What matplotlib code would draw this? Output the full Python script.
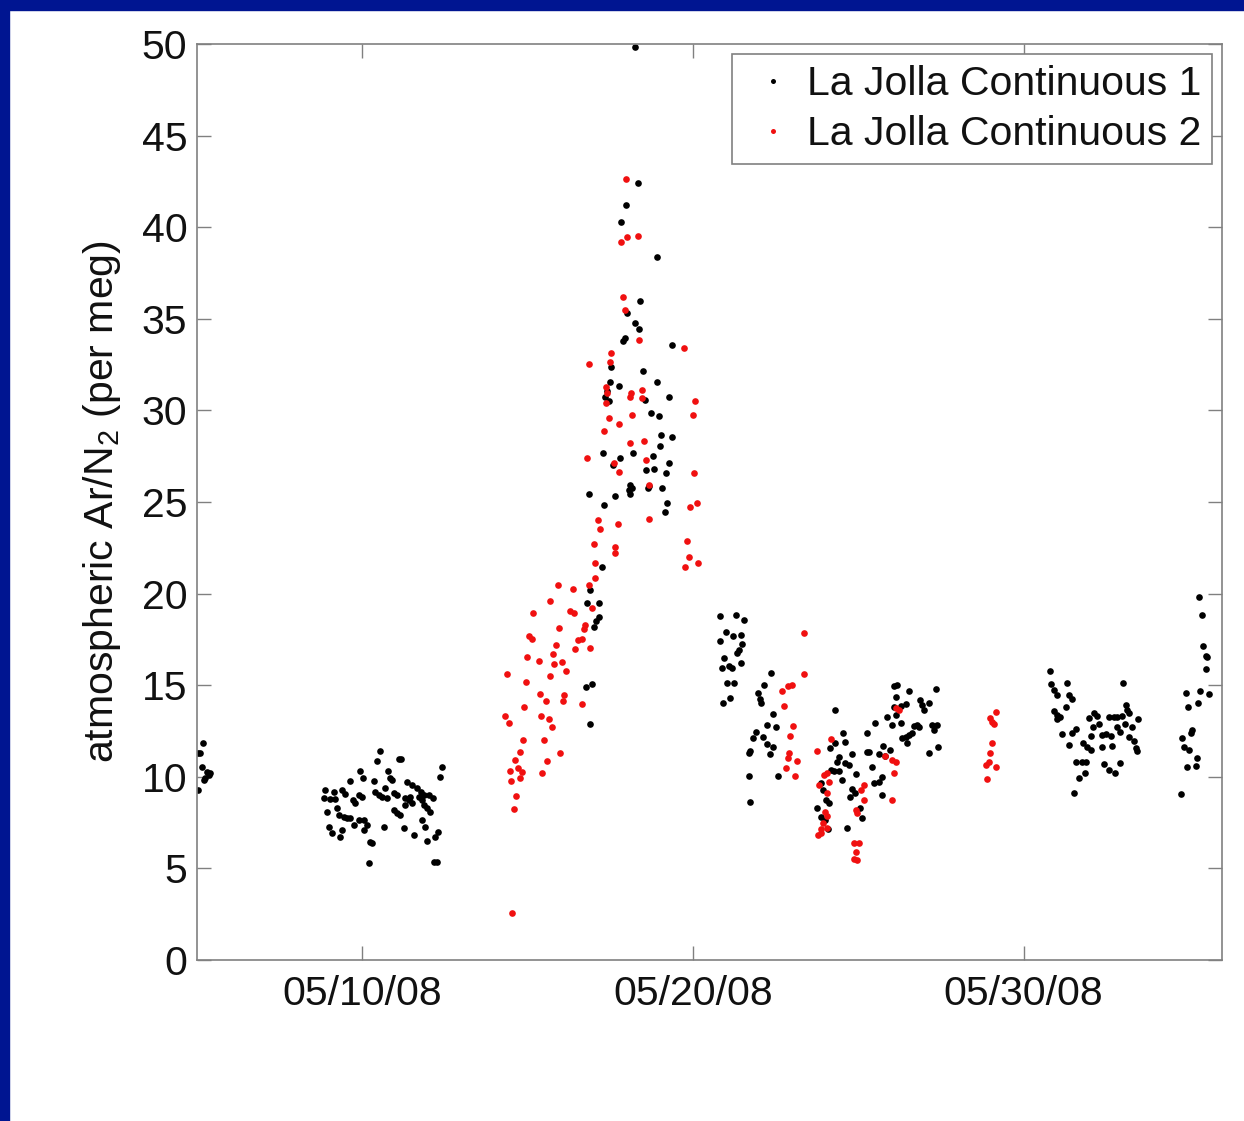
import numpy as np
import matplotlib
matplotlib.use('Agg')
import matplotlib.pyplot as plt
import matplotlib.dates as mdates
from matplotlib.patches import Rectangle
from datetime import datetime

# day of May 2008 (fractional) and Ar/N2 in per meg
black_day = [
    5.18, 5.08, 5.02, 5.15, 5.30, 5.35, 5.25, 5.20, 5.40, 5.02,
    10.52, 10.44, 11.10, 11.17, 9.94, 10.02, 10.78, 10.85, 10.90, 9.62, 10.34, 12.41, 12.36,
    11.35, 11.50, 11.65, 11.76, 11.86, 12.01, 12.14, 8.88, 9.13, 9.38, 9.49, 8.83, 9.03, 9.18,
    9.71, 9.79, 9.89, 9.99, 10.39, 10.49, 10.60, 10.70, 10.75, 10.95, 11.05, 11.30, 11.40,
    11.45, 11.50, 11.30, 11.70, 11.81, 11.86, 11.96, 12.06, 8.93, 9.23, 9.28, 9.44, 9.54,
    9.64, 9.89, 10.04, 10.14, 10.95, 11.05, 11.13, 8.98, 9.08, 9.38, 9.33, 9.74, 10.04,
    10.65, 11.25, 11.55, 11.81, 11.91, 11.96, 12.21, 12.28, 10.24, 10.29, 10.19, 12.16, 12.26,
    17.25, 16.88, 16.78, 17.15, 17.08, 17.15, 17.02, 16.75, 16.95, 16.90,
    18.26, 18.34, 17.96, 17.83, 18.92, 18.41, 17.99, 18.24, 18.36, 17.89, 17.93, 19.37, 17.52,
    18.49, 17.48, 17.76, 18.90, 17.40, 17.35, 17.45, 18.56, 19.29, 18.73, 18.97, 19.02,
    19.37, 19.00, 17.27, 18.19, 17.79, 18.79, 17.58, 19.27, 18.59, 18.81, 19.17, 18.09,
    18.06, 18.16, 18.63, 18.68, 19.07, 16.85, 17.63, 18.09, 19.22, 17.32, 19.14,
    20.83, 21.29, 21.54, 21.01, 21.22, 21.44, 20.81, 21.49, 21.39, 21.32, 20.93, 21.08,
    20.88, 21.18, 21.46, 21.03, 21.24, 21.13, 20.91, 22.37, 22.16, 21.96, 22.02, 22.06,
    22.43, 22.24, 22.50, 21.92, 21.82, 22.12, 22.24, 22.43, 21.74, 21.69, 22.32, 21.69,
    22.57, 21.74, 24.29, 24.54, 24.31, 24.61, 24.14, 24.41, 24.36, 24.61, 24.82, 24.72,
    24.18, 24.28, 24.41, 24.51, 24.92, 25.25, 25.32, 25.25, 25.52, 25.62, 25.42, 25.75,
    25.82, 25.47, 25.62, 25.72, 23.88, 23.94, 24.01, 24.11, 23.76, 23.86, 23.98, 24.08,
    24.66, 24.82, 24.89, 24.75, 25.05, 25.10, 25.72, 26.08, 26.18, 26.53, 26.13, 26.08,
    26.28, 25.88, 26.13, 26.03, 26.28, 26.43, 26.33, 26.43, 26.53, 26.63, 26.68, 26.78,
    26.83, 26.88, 26.93, 26.98, 27.14, 27.34, 27.24, 27.39, 27.29, 27.14, 27.41, 25.95, 26.48,
    30.80, 30.84, 30.92, 31.02, 31.30, 31.37, 31.47, 31.27, 30.92, 31.02, 31.10, 31.00,
    31.98, 32.13, 32.23, 32.11, 32.28, 32.58, 32.73, 32.83, 32.99, 33.09, 33.14, 33.02,
    33.19, 33.47, 33.06, 32.83, 33.29, 31.17, 31.47, 31.57, 31.37, 31.81, 31.93, 32.03,
    32.05, 32.38, 32.48, 32.63, 32.38, 32.68, 32.93, 33.19, 33.34, 33.39, 33.44, 31.57,
    31.78, 31.88, 31.85, 31.67, 32.43, 32.58, 32.75, 32.93, 31.52,
    35.31, 35.41, 35.44, 35.51, 35.56, 35.52, 34.90, 35.34, 35.61, 35.28, 34.97, 35.10,
    35.05, 34.80, 34.85, 35.00, 35.23, 35.20, 34.93, 34.77,
]
black_val = [
    11.83, 11.28, 11.32, 10.55, 10.28, 10.10, 9.92, 9.83, 10.22, 9.28,
    11.41, 10.86, 10.95, 10.95, 10.31, 9.91, 10.31, 9.95, 9.82, 9.79, 9.79, 10.55, 10.00,
    9.73, 9.55, 9.37, 9.19, 9.00, 9.00, 8.86, 9.28, 9.19, 9.28, 9.04, 8.86, 8.79, 8.79,
    8.73, 8.55, 9.00, 8.91, 9.19, 9.00, 8.91, 9.37, 8.82, 9.10, 9.00, 8.82, 8.73,
    8.91, 8.55, 8.46, 8.91, 8.73, 8.46, 8.28, 8.10, 8.10, 8.28, 7.91, 7.82, 7.73,
    7.73, 7.64, 7.64, 7.37, 8.19, 8.00, 7.91, 7.28, 6.91, 7.09, 6.73, 7.37, 7.09,
    7.24, 7.19, 6.82, 7.64, 7.28, 6.51, 6.73, 7.00, 6.46, 6.37, 5.27, 5.33, 5.33,
    21.44, 20.20, 19.51, 19.51, 18.53, 18.71, 18.16, 14.92, 15.07, 12.87,
    49.84, 42.40, 41.21, 40.27, 38.36, 35.97, 35.34, 34.79, 34.43, 33.81, 33.94, 33.57, 32.35,
    32.15, 31.57, 31.35, 31.57, 31.08, 30.75, 30.53, 30.57, 30.75, 29.84, 29.70, 28.66,
    28.57, 28.08, 27.66, 27.69, 27.42, 27.51, 27.02, 27.11, 26.75, 26.78, 26.60, 25.93,
    25.66, 25.75, 25.75, 25.88, 25.75, 25.42, 25.33, 25.42, 24.93, 24.84, 24.47,
    18.78, 18.83, 18.56, 17.92, 17.68, 17.74, 17.43, 17.23, 16.92, 16.74, 16.47, 16.05,
    15.92, 15.92, 16.19, 15.10, 15.10, 14.28, 14.01, 15.68, 15.01, 14.59, 14.23, 14.01,
    13.43, 12.83, 12.70, 12.46, 12.10, 12.19, 11.79, 11.64, 11.43, 11.32, 11.24, 10.04,
    10.04, 8.64, 13.65, 12.37, 11.83, 11.92, 11.55, 11.10, 10.83, 10.77, 11.24, 10.64,
    10.37, 10.33, 10.33, 9.82, 10.15, 11.37, 11.37, 12.41, 12.95, 11.24, 10.55, 11.68,
    11.13, 9.64, 9.73, 10.01, 9.68, 9.28, 8.73, 8.55, 8.28, 7.82, 7.64, 7.13,
    7.19, 9.32, 9.13, 8.88, 8.28, 7.73, 9.01, 14.96, 15.01, 14.70, 14.34, 13.83,
    13.86, 13.28, 13.37, 12.83, 12.92, 13.97, 12.10, 12.19, 12.28, 12.37, 12.77, 12.83,
    12.74, 14.19, 13.92, 13.65, 14.05, 14.77, 12.83, 12.83, 12.55, 11.32, 11.64, 11.46, 11.83,
    15.79, 15.06, 14.74, 14.46, 15.14, 14.46, 14.23, 13.79, 13.61, 13.37, 13.24, 13.13,
    13.19, 13.50, 13.32, 12.73, 12.88, 13.24, 13.24, 13.28, 13.32, 13.92, 13.64, 15.10,
    13.50, 13.13, 12.88, 12.73, 12.73, 12.33, 12.37, 12.59, 11.73, 11.86, 11.64, 11.46,
    12.22, 12.28, 12.33, 12.22, 11.64, 11.68, 12.46, 12.19, 11.97, 11.55, 11.42, 10.82,
    10.82, 10.82, 10.19, 9.91, 10.68, 10.37, 10.22, 10.77, 9.10,
    19.83, 18.83, 17.14, 16.59, 16.52, 15.86, 14.59, 14.70, 14.52, 14.04, 13.79, 12.55,
    12.41, 12.10, 11.64, 11.46, 11.01, 10.59, 10.51, 9.04,
]

red_day = [
    17.00, 17.65, 17.65, 17.05, 17.05, 16.85, 15.91, 16.37, 15.69, 15.15, 16.29, 16.41,
    16.95, 15.94, 16.72, 16.70, 15.05, 15.13, 16.52, 16.65, 16.44, 16.90, 15.87, 15.77,
    14.98, 15.33, 16.04, 15.81, 16.17, 14.38, 15.67, 14.95, 15.37, 15.54, 16.09, 16.07,
    16.63, 14.90, 14.33, 14.43, 15.41, 15.64, 15.74, 14.86, 15.49, 14.78, 15.99, 14.63,
    14.70, 14.46, 14.83, 15.59, 15.44, 14.50, 14.76, 14.65, 14.58, 14.53,
    17.96, 18.01, 17.83, 18.33, 17.88, 17.93, 18.36, 19.74, 17.53, 16.85, 17.50, 17.37,
    17.40, 18.46, 18.09, 18.13, 18.46, 17.38, 20.05, 20.00, 18.16, 17.45, 17.76, 17.30,
    18.09, 18.53, 16.78, 17.60, 17.76, 18.59, 18.66, 20.02, 20.13, 19.92, 17.12, 17.18,
    17.73, 18.66, 19.82, 19.87, 20.15, 19.77,
    23.35, 23.37, 22.70, 22.87, 23.00, 22.75, 23.03, 22.93, 22.90, 22.87, 23.15, 22.80,
    23.10, 23.76, 24.18, 24.06, 23.96, 24.11, 23.81, 24.04, 23.98, 24.04, 23.94, 23.88,
    23.78, 23.86, 24.04, 25.82, 26.03, 26.13, 26.08, 25.17, 25.07, 25.17, 24.92, 24.97,
    26.03, 24.87, 25.02, 24.92, 24.87, 24.97, 26.13, 26.23,
    29.18, 28.98, 29.10, 29.05, 29.05, 28.98, 28.95, 28.85, 29.15, 28.90,
]
red_val = [
    22.71, 22.53, 22.20, 21.69, 20.84, 20.47, 20.47, 20.24, 19.60, 18.96, 19.07, 18.93,
    19.20, 18.11, 18.29, 18.05, 17.69, 17.51, 17.47, 17.51, 16.96, 17.02, 17.20, 16.71,
    16.53, 16.33, 16.29, 16.14, 15.80, 15.62, 15.51, 15.20, 14.52, 14.16, 14.47, 14.14,
    13.96, 13.83, 13.32, 12.96, 13.32, 13.14, 12.74, 12.01, 12.01, 11.38, 11.32, 10.89,
    10.50, 10.34, 10.25, 10.85, 10.19, 9.77, 9.96, 8.97, 8.23, 2.55,
    42.61, 39.45, 39.18, 39.54, 36.21, 35.48, 33.84, 33.39, 33.15, 32.53, 32.66, 31.30,
    30.93, 31.12, 30.75, 30.97, 30.66, 30.42, 30.51, 29.75, 29.75, 29.57, 29.26, 28.90,
    28.20, 28.35, 27.42, 27.11, 26.66, 27.29, 25.93, 26.57, 24.93, 24.75, 24.02, 23.51,
    23.80, 24.06, 22.89, 21.98, 21.65, 21.44,
    17.83, 15.61, 14.70, 14.96, 15.01, 13.86, 12.77, 12.23, 11.28, 11.01, 10.88, 10.46,
    10.04, 11.43, 12.04, 10.19, 10.10, 9.73, 9.55, 9.13, 8.10, 7.86, 7.50, 7.13,
    6.82, 6.95, 7.19, 11.13, 10.92, 10.83, 10.22, 9.55, 9.28, 8.73, 8.19, 8.01,
    8.73, 6.40, 6.40, 5.91, 5.49, 5.46, 13.74, 13.65,
    13.55, 13.23, 12.88, 13.01, 11.86, 11.31, 10.82, 10.64, 10.51, 9.86,
]

plt.rcParams['font.family'] = ['Liberation Sans', 'DejaVu Sans']
plt.rcParams['mathtext.default'] = 'regular'

fig = plt.figure(figsize=(12.44, 11.21), dpi=100)
# dark blue slide border on left and top
fig.patches.append(Rectangle((0, 0), 9 / 1244, 1, transform=fig.transFigure,
                             color='#001591', zorder=-1))
fig.patches.append(Rectangle((0, 1 - 10 / 1121), 1, 10 / 1121, transform=fig.transFigure,
                             color='#001591', zorder=-1))

ax = fig.add_axes([197 / 1244, 161 / 1121, 1025 / 1244, 916 / 1121])

base = mdates.date2num(datetime(2008, 5, 1)) - 1
bx = base + np.array(black_day)
rx = base + np.array(red_day)

ax.plot(bx, black_val, 'o', color='black', ms=4.8, mew=0, label='La Jolla Continuous 1')
ax.plot(rx, red_val, 'o', color='#f01010', ms=4.8, mew=0, label='La Jolla Continuous 2')

ax.set_xlim(base + 5, base + 36)
ax.set_ylim(0, 50)
ax.set_yticks(np.arange(0, 51, 5))
ax.xaxis.set_major_locator(mdates.DayLocator(bymonthday=[10, 20, 30]))
ax.xaxis.set_major_formatter(mdates.DateFormatter('%m/%d/%y'))

for s in ax.spines.values():
    s.set_color('#808080')
    s.set_linewidth(1.2)
ax.tick_params(direction='in', length=10, width=1, color='#808080',
               top=True, right=True, labelsize=29.5, labelcolor='#111111')
ax.tick_params(axis='y', pad=7)
ax.tick_params(axis='x', pad=11)

ax.set_ylabel(r'atmospheric Ar/N$_2$ (per meg)', fontsize=29.5, color='#111111', labelpad=13)

leg = ax.legend(loc='upper right', bbox_to_anchor=(0.9905, 0.989), fontsize=29.5,
                fancybox=False, framealpha=1, edgecolor='#808080', markerscale=0.75,
                handlelength=1.45, handletextpad=0.1, borderpad=0.27, labelspacing=0.3,
                borderaxespad=0)
leg.get_frame().set_linewidth(1.2)
for t in leg.get_texts():
    t.set_color('#111111')

fig.savefig('out.png', dpi=100)
